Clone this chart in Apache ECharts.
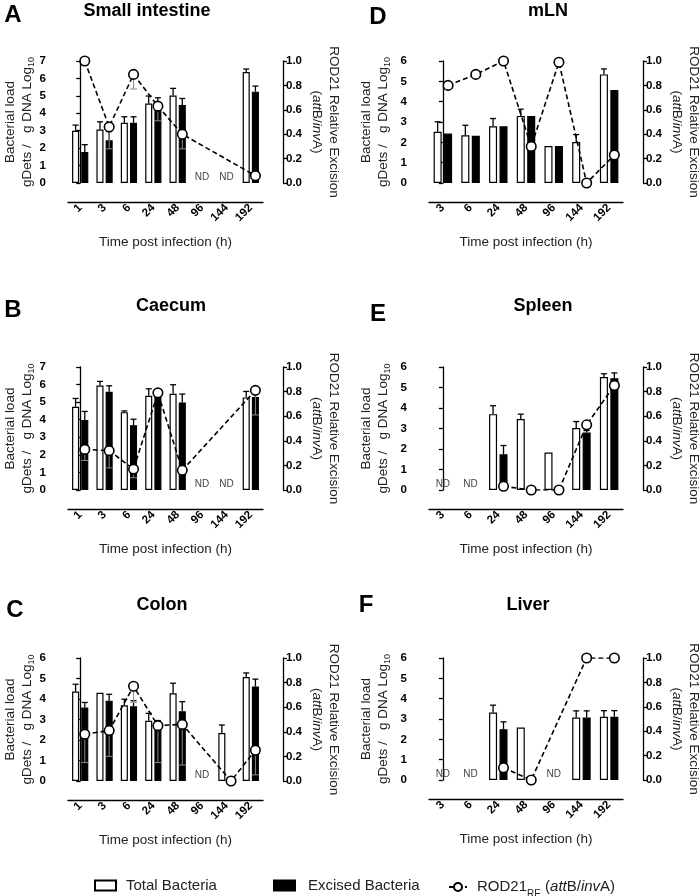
<!DOCTYPE html>
<html><head><meta charset="utf-8">
<script src="https://cdn.jsdelivr.net/npm/echarts@6/dist/echarts.min.js"></script>
<style>html,body{margin:0;padding:0;background:#fff}#chart{width:700px;height:896px}</style>
</head><body><div id="chart"></div>
<script>
// ---------------- data ----------------
const gutHours = ['1','3','6','24','48','96','144','192'];
const sysHours = ['3','6','24','48','96','144','192'];
const rightTicks = ['0.0','0.2','0.4','0.6','0.8','1.0'];

// A  Small intestine
const siTotal      = [3.00, 3.07, 3.45, 4.56, 5.02, null, null, 6.37];
const siTotalErr   = [0.32, 0.44, 0.35, 0.43, 0.41, null, null, 0.17];
const siExcised    = [1.78, 2.45, 3.45, 4.22, 4.47, null, null, 5.24];
const siExcisedErr = [0.42, 0.50, 0.35, 0.67, 0.38, null, null, 0.32];
const siRatio      = [1.00, 0.46, 0.89, 0.63, 0.40, null, null, 0.06];
const siRatioErr   = [null, 0.18, 0.12, 0.12, 0.12, null, null, null];
const siND         = ['96','144'];

// B  Caecum
const caTotal      = [4.74, 5.95, 4.43, 5.36, 5.48, null, null, 5.27];
const caTotalErr   = [0.47, 0.23, 0.07, 0.40, 0.51, null, null, 0.34];
const caExcised    = [3.99, 5.59, 3.69, 5.30, 4.98, null, null, 5.29];
const caExcisedErr = [0.48, 0.34, 0.34, 0.25, 0.48, null, null, 0.30];
const caRatio      = [0.33, 0.32, 0.17, 0.79, 0.16, null, null, 0.81];
const caRatioErr   = [0.09, 0.14, 0.07, null, null, null, null, 0.20];
const caND         = ['96','144'];

// C  Colon
const coTotal      = [4.36, 4.30, 3.69, 2.94, 4.28, null, 2.34, 5.07];
const coTotalErr   = [0.36, null, 0.30, 0.36, 0.49, null, 0.39, 0.20];
const coExcised    = [3.58, 3.92, 3.65, 2.80, 3.40, null, null, 4.61];
const coExcisedErr = [0.25, 0.31, 0.27, 0.15, 0.47, null, null, 0.36];
const coRatio      = [0.38, 0.41, 0.77, 0.45, 0.46, null, 0.00, 0.25];
const coRatioErr   = [0.23, 0.21, 0.13, 0.30, 0.33, null, null, 0.20];
const coND         = ['96'];

// D  mLN
const mlTotal      = [2.52, 2.35, 2.79, 3.30, 1.82, 2.02, 5.34];
const mlTotalErr   = [0.49, 0.49, 0.38, 0.33, null, 0.36, 0.27];
const mlExcised    = [2.43, 2.32, 2.79, 3.29, 1.82, null, 4.57];
const mlExcisedErr = [null, null, null, null, null, null, null];
const mlRatio      = [0.80, 0.89, 1.00, 0.30, 0.99, 0.00, 0.23];
const mlRatioErr   = [null, null, null, null, null, null, null];
const mlND         = [];

// E  Spleen
const spTotal      = [null, null, 3.70, 3.46, 1.83, 3.02, 5.51];
const spTotalErr   = [null, null, 0.41, 0.24, null, 0.32, 0.16];
const spExcised    = [null, null, 1.74, null, null, 2.80, 5.45];
const spExcisedErr = [null, null, 0.43, null, null, 0.10, 0.26];
const spRatio      = [null, null, 0.03, 0.00, 0.00, 0.53, 0.85];
const spRatioErr   = [null, null, null, null, null, null, null];
const spND         = ['3','6'];

// F  Liver
const liTotal      = [null, null, 3.32, 2.58, null, 3.07, 3.11];
const liTotalErr   = [null, null, 0.36, null, null, 0.33, 0.30];
const liExcised    = [null, null, 2.50, null, null, 3.07, 3.11];
const liExcisedErr = [null, null, 0.36, null, null, 0.33, 0.30];
const liRatio      = [null, null, 0.10, 0.00, null, 1.00, 1.00];
const liRatioErr   = [null, null, null, null, null, null, null];
const liND         = ['3','6','96'];

// ---------------- layout / style ----------------
const FONT = "'Liberation Sans', Arial, Helvetica, sans-serif";
const BAR_W = 0.29, BAR_GAP = 0.30;
const OFF = BAR_W * (1 + BAR_GAP) / 2;   // centre of each bar relative to band centre (band units)

const panels = [
  {id:'A', title:'Small intestine', cats:gutHours, total:siTotal, totalErr:siTotalErr, excised:siExcised, excisedErr:siExcisedErr, ratio:siRatio, ratioErr:siRatioErr, nd:siND, yMax:7,
   grid:[68,61,195,122], letterXY:[13,15], titleXY:[147,11], gapL:13},
  {id:'B', title:'Caecum', cats:gutHours, total:caTotal, totalErr:caTotalErr, excised:caExcised, excisedErr:caExcisedErr, ratio:caRatio, ratioErr:caRatioErr, nd:caND, yMax:7,
   grid:[68,367,195,123], letterXY:[13,310], titleXY:[171,306], gapL:13},
  {id:'C', title:'Colon', cats:gutHours, total:coTotal, totalErr:coTotalErr, excised:coExcised, excisedErr:coExcisedErr, ratio:coRatio, ratioErr:coRatioErr, nd:coND, yMax:6,
   grid:[68,658,195,123], letterXY:[15,610], titleXY:[162,605], gapL:13},
  {id:'D', title:'mLN', cats:sysHours, total:mlTotal, totalErr:mlTotalErr, excised:mlExcised, excisedErr:mlExcisedErr, ratio:mlRatio, ratioErr:mlRatioErr, nd:mlND, yMax:6,
   grid:[429,61,194,122], letterXY:[378,17], titleXY:[548,11], gapL:18},
  {id:'E', title:'Spleen', cats:sysHours, total:spTotal, totalErr:spTotalErr, excised:spExcised, excisedErr:spExcisedErr, ratio:spRatio, ratioErr:spRatioErr, nd:spND, yMax:6,
   grid:[429,367,194,123], letterXY:[378,314], titleXY:[543,306], gapL:18},
  {id:'F', title:'Liver', cats:sysHours, total:liTotal, totalErr:liTotalErr, excised:liExcised, excisedErr:liExcisedErr, ratio:liRatio, ratioErr:liRatioErr, nd:liND, yMax:6,
   grid:[429,658,194,122], letterXY:[366,605], titleXY:[528,605], gapL:18}
];

function errRender(dir, color, width, capHalf) {
  return function (params, api) {
    const i = api.value(0), v = api.value(1), e = api.value(2), side = api.value(3);
    const bw = api.size([1, 0])[0];
    const a = api.coord([i, v]);
    const b = api.coord([i, v + dir * e]);
    const x = a[0] + side * bw * OFF;
    const st = {stroke: color, lineWidth: width};
    return {type: 'group', children: [
      {type: 'line', shape: {x1: x, y1: a[1], x2: x, y2: b[1]}, style: st},
      {type: 'line', shape: {x1: x - capHalf, y1: b[1], x2: x + capHalf, y2: b[1]}, style: st}
    ]};
  };
}
function errData(vals, errs, side) {
  const out = [];
  vals.forEach((v, i) => { if (v != null && errs[i] != null && errs[i] > 0) out.push([i, v, errs[i], side]); });
  return out;
}

const option = {
  animation: false,
  backgroundColor: '#fff',
  grid: [], xAxis: [], yAxis: [], series: [], graphic: [],
  legend: []
};

const axisLineStyle = {color: '#000', width: 1.3};

panels.forEach((p, k) => {
  option.grid.push({left: p.grid[0], top: p.grid[1], width: p.grid[2], height: p.grid[3], containLabel: false, outerBoundsMode: 'none'});
  const xc = option.xAxis.length;
  option.xAxis.push({
    type: 'category', gridIndex: k, data: p.cats, position: 'bottom', offset: 19,
    axisLine: {onZero: false, lineStyle: axisLineStyle},
    axisTick: {alignWithLabel: true, length: 5, lineStyle: axisLineStyle},
    axisLabel: {rotate: 45, margin: 4, fontFamily: FONT, fontWeight: 'bold', fontSize: 11.5, color: '#000', interval: 0},
    name: 'Time post infection (h)', nameLocation: 'middle', nameGap: 33,
    nameTextStyle: {fontFamily: FONT, fontSize: 13.5, color: '#222'}
  });
  const xv = option.xAxis.length;
  option.xAxis.push({type: 'value', gridIndex: k, min: -0.5, max: p.cats.length - 0.5, show: false});
  const yl = option.yAxis.length;
  option.yAxis.push({
    type: 'value', gridIndex: k, min: 0, max: p.yMax, interval: 1, position: 'left', offset: 19,
    axisLine: {show: true, lineStyle: axisLineStyle},
    axisTick: {show: true, length: 4, lineStyle: axisLineStyle},
    splitLine: {show: false},
    axisLabel: {margin: 3, fontFamily: FONT, fontWeight: 'bold', fontSize: 11.5, color: '#000'},
    name: 'Bacterial load\ngDets /   g DNA Log{sub|10}', nameLocation: 'middle', nameGap: p.gapL, nameRotate: 90,
    nameTextStyle: {fontFamily: FONT, fontSize: 13.5, color: '#222', lineHeight: 17,
      rich: {sub: {fontFamily: FONT, fontSize: 9, lineHeight: 6, verticalAlign: 'bottom', color: '#222'}}}
  });
  const yr = option.yAxis.length;
  option.yAxis.push({
    type: 'value', gridIndex: k, min: 0, max: 1, interval: 0.2, position: 'right', offset: 20,
    axisLine: {show: true, lineStyle: axisLineStyle},
    axisTick: {show: true, length: 4, lineStyle: axisLineStyle},
    splitLine: {show: false},
    axisLabel: {margin: 3, fontFamily: FONT, fontWeight: 'bold', fontSize: 11.5, color: '#000',
      formatter: v => rightTicks[Math.round(v * 5)]},
    name: 'ROD21 Relative Excision\n({it|att}B/{it|inv}A)', nameLocation: 'middle', nameGap: 25, nameRotate: -90,
    nameTextStyle: {fontFamily: FONT, fontSize: 13.5, color: '#222', lineHeight: 17,
      rich: {it: {fontFamily: FONT, fontSize: 13.5, fontStyle: 'italic', color: '#222'}}}
  });

  option.series.push({
    name: 'Total Bacteria', type: 'bar', xAxisIndex: xc, yAxisIndex: yl, data: p.total,
    barWidth: (BAR_W * 100) + '%', barGap: (BAR_GAP * 100) + '%', z: 2,
    itemStyle: {color: '#fff', borderColor: '#000', borderWidth: 1.2}
  });
  option.series.push({
    name: 'Excised Bacteria', type: 'bar', xAxisIndex: xc, yAxisIndex: yl, data: p.excised,
    barWidth: (BAR_W * 100) + '%', barGap: (BAR_GAP * 100) + '%', z: 2,
    itemStyle: {color: '#000', borderColor: '#000', borderWidth: 1.2}
  });
  option.series.push({
    type: 'custom', xAxisIndex: xc, yAxisIndex: yl, z: 3, silent: true,
    renderItem: errRender(1, '#000', 1.3, 3),
    encode: {x: 0, y: 1},
    data: errData(p.total, p.totalErr, -1).concat(errData(p.excised, p.excisedErr, 1))
  });
  option.series.push({
    type: 'custom', xAxisIndex: xc, yAxisIndex: yr, z: 3, silent: true,
    renderItem: errRender(-1, '#8a8a8a', 1, 3.5),
    encode: {x: 0, y: 1},
    data: errData(p.ratio, p.ratioErr, 1)
  });
  const lineData = [];
  p.ratio.forEach((v, i) => { if (v != null) lineData.push([i + OFF, v]); });
  option.series.push({
    name: 'ROD21', type: 'line', xAxisIndex: xv, yAxisIndex: yr, data: lineData, z: 5,
    symbol: 'circle', symbolSize: 9.5,
    lineStyle: {color: '#000', width: 1.6, type: [5, 3]},
    itemStyle: {color: '#fff', borderColor: '#000', borderWidth: 1.6}
  });
  option.series.push({
    type: 'custom', xAxisIndex: xc, yAxisIndex: yl, z: 4, silent: true,
    encode: {x: 0, y: 1},
    data: p.nd.map(c => [p.cats.indexOf(c), 0]),
    renderItem: function (params, api) {
      const c = api.coord([api.value(0), 0]);
      return {type: 'text', x: c[0], y: c[1] - 1,
        style: {text: 'ND', align: 'center', verticalAlign: 'bottom', fill: '#444', fontFamily: FONT, fontSize: 10}};
    }
  });

  option.graphic.push({type: 'text', x: p.letterXY[0], y: p.letterXY[1],
    style: {text: p.id, align: 'center', verticalAlign: 'middle', fill: '#000', fontFamily: FONT, fontWeight: 'bold', fontSize: 24}});
  option.graphic.push({type: 'text', x: p.titleXY[0], y: p.titleXY[1],
    style: {text: p.title, align: 'center', verticalAlign: 'middle', fill: '#000', fontFamily: FONT, fontWeight: 'bold', fontSize: 18}});
});

const legendText = {fontFamily: FONT, fontSize: 15, color: '#222'};
option.legend = [
  {data: ['Total Bacteria'], left: 89, top: 873, itemWidth: 21, itemHeight: 10, icon: 'rect', selectedMode: false,
   textStyle: Object.assign({padding: [0, 0, 0, 5]}, legendText)},
  {data: ['Excised Bacteria'], left: 268, top: 873, itemWidth: 21, itemHeight: 10, icon: 'rect', selectedMode: false,
   textStyle: Object.assign({padding: [0, 0, 0, 8]}, legendText)},
  {data: ['ROD21'], left: 443, top: 870, itemWidth: 18, itemHeight: 10, selectedMode: false,
   formatter: () => 'ROD21{sub|RE} ({it|att}B/{it|inv}A)',
   textStyle: Object.assign({padding: [0, 0, 0, 5], lineHeight: 24,
     rich: {sub: {fontFamily: FONT, fontSize: 10, lineHeight: 9, verticalAlign: 'bottom', color: '#222'},
            it: {fontFamily: FONT, fontSize: 15, fontStyle: 'italic', color: '#222'}}}, legendText)}
];

const chart = echarts.init(document.getElementById('chart'), null, {renderer: 'canvas'});
chart.setOption(option);
</script></body></html>
